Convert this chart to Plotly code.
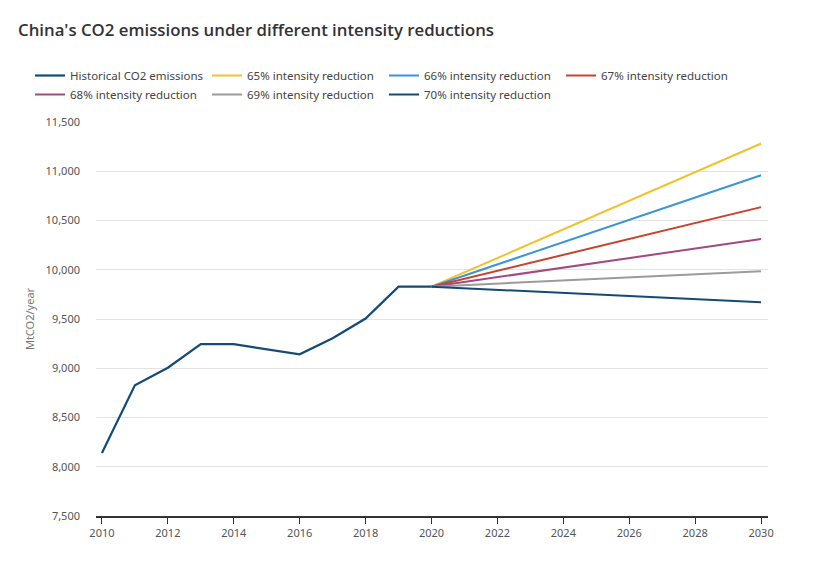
import plotly.graph_objects as go

hist_years = [2010, 2011, 2012, 2013, 2014, 2015, 2016, 2017, 2018, 2019, 2020]
hist_values = [8140, 8827, 9005, 9246, 9244, 9193, 9142, 9304, 9505, 9828, 9828]

proj_years = [2020, 2030]
proj_65 = [9828, 11282]
proj_66 = [9828, 10959]
proj_67 = [9828, 10636]
proj_68 = [9828, 10312]
proj_69 = [9828, 9986]
proj_70 = [9828, 9670]

series_names = [
    "Historical CO2 emissions",
    "65% intensity reduction",
    "66% intensity reduction",
    "67% intensity reduction",
    "68% intensity reduction",
    "69% intensity reduction",
    "70% intensity reduction",
]
colors = ["#144b76", "#f2c12e", "#3a95d6", "#c8422c", "#a3497f", "#9b9b9b", "#144b76"]

x_ticks = list(range(2010, 2031, 2))
y_ticks = list(range(7500, 11501, 500))

fig = go.Figure()
fig.add_trace(go.Scatter(x=hist_years, y=hist_values, mode="lines", name=series_names[0],
                         line=dict(color=colors[0], width=2.2)))
for name, vals, col in zip(series_names[1:], [proj_65, proj_66, proj_67, proj_68, proj_69, proj_70], colors[1:]):
    fig.add_trace(go.Scatter(x=proj_years, y=vals, mode="lines", name=name,
                             line=dict(color=col, width=2)))

font_family = "Noto Sans, Open Sans, DejaVu Sans, sans-serif"

W, H = 805, 554
L, R, T, B = 88, 45, 114, 46
PW, PH = W - L - R, H - T - B

fig.update_layout(
    width=W, height=H,
    paper_bgcolor="white", plot_bgcolor="white",
    margin=dict(l=L, r=R, t=T, b=B, autoexpand=False),
    font=dict(family=font_family, size=11, color="#555555"),
    title=dict(text="China's CO2 emissions under different intensity reductions",
               x=10 / W, xanchor="left", y=1 - 22 / H, yanchor="middle",
               font=dict(size=16.8, color="#333333", family="Open Sans, Noto Sans, sans-serif", weight=600)),
    legend=dict(orientation="h", x=(22 - L) / PW, xanchor="left", y=1 + 61 / PH, yanchor="top",
                entrywidth=132, entrywidthmode="pixels", itemwidth=30,
                font=dict(size=11.5, color="#444444"), traceorder="normal",
                bgcolor="rgba(0,0,0,0)", tracegroupgap=0),
    showlegend=True,
    hovermode=False,
)

fig.update_xaxes(
    range=[2009.82, 2030.21], tickvals=x_ticks, ticktext=[str(t) for t in x_ticks],
    showgrid=False, showline=True, linecolor="#333333", linewidth=1.5,
    ticks="outside", ticklen=6, tickcolor="#333333", tickwidth=1.2,
    tickfont=dict(size=11, color="#555555"), zeroline=False, automargin=False,
)
fig.update_yaxes(
    range=[7500, 11500], tickvals=y_ticks, ticktext=[f"{v:,}" for v in y_ticks],
    showgrid=True, gridcolor="#e3e3e3", gridwidth=1, showline=False, zeroline=False,
    ticks="", ticklabelstandoff=15, automargin=False,
    tickfont=dict(size=11, color="#555555"),
    title=dict(text="MtCO2/year", font=dict(size=11, color="#777777"), standoff=8),
)

fig.write_html("out.html")
